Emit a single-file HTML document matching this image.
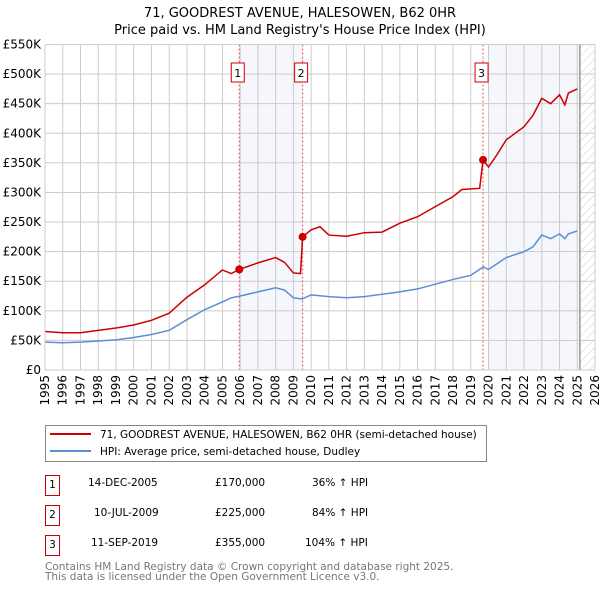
<!DOCTYPE html>
<html><head><meta charset="utf-8"><style>
body{margin:0;background:#fff;width:600px;height:590px;overflow:hidden;font-family:"DejaVu Sans","Liberation Sans",sans-serif}
text{font-family:"DejaVu Sans","Liberation Sans",sans-serif}
</style></head><body>
<svg id="chart" width="600" height="590" xmlns="http://www.w3.org/2000/svg">
<defs><pattern id="hatch" width="6" height="6" patternUnits="userSpaceOnUse" patternTransform="rotate(45)"><line x1="0" y1="0" x2="0" y2="6" stroke="#ccc" stroke-width="1"/></pattern></defs>
<text x="300" y="17" text-anchor="middle" font-size="13">71, GOODREST AVENUE, HALESOWEN, B62 0HR</text>
<text x="300" y="34" text-anchor="middle" font-size="13">Price paid vs. HM Land Registry's House Price Index (HPI)</text>
<g id="plot"></g>
<g>
<rect x="45.5" y="425.5" width="441" height="36" fill="#fff" stroke="#888"/>
<line x1="50" y1="434" x2="91" y2="434" stroke="#cc0000" stroke-width="2"/>
<text x="100" y="438" font-size="10.5">71, GOODREST AVENUE, HALESOWEN, B62 0HR (semi-detached house)</text>
<line x1="50" y1="451" x2="91" y2="451" stroke="#5b8fd4" stroke-width="2"/>
<text x="100" y="455" font-size="10.5">HPI: Average price, semi-detached house, Dudley</text>
</g>
<g font-size="10.5">
<rect x="45.5" y="475.5" width="14" height="20" fill="none" stroke="#cc0000"/><text x="52.5" y="488" text-anchor="middle">1</text>
<text x="88" y="486">14-DEC-2005</text><text x="215" y="486">£170,000</text><text x="312" y="486">36% ↑ HPI</text>
<rect x="45.5" y="505.5" width="14" height="20" fill="none" stroke="#cc0000"/><text x="52.5" y="518" text-anchor="middle">2</text>
<text x="94" y="516">10-JUL-2009</text><text x="215" y="516">£225,000</text><text x="312" y="516">84% ↑ HPI</text>
<rect x="45.5" y="535.5" width="14" height="20" fill="none" stroke="#cc0000"/><text x="52.5" y="548" text-anchor="middle">3</text>
<text x="91" y="546">11-SEP-2019</text><text x="215" y="546">£355,000</text><text x="305" y="546">104% ↑ HPI</text>
</g>
<text x="45" y="570" font-size="10.5" fill="#777">Contains HM Land Registry data © Crown copyright and database right 2025.</text>
<text x="45" y="580" font-size="10.5" fill="#777">This data is licensed under the Open Government Licence v3.0.</text>
</svg>
<script>
const redYears=[1995,1996,1997,1998,1999,2000,2001,2002,2003,2004,2005,2005.5,2005.95,2007,2008,2008.5,2009,2009.4,2009.52,2010,2010.5,2011,2012,2013,2014,2015,2016,2017,2018,2018.5,2019.5,2019.69,2020,2020.5,2021,2022,2022.5,2023,2023.5,2024,2024.3,2024.5,2025];
const redValues=[65,63,63,67,71,76,84,96,123,144,169,163,170,181,190,182,164,163,225,237,242,228,226,232,233,248,259,276,293,305,307,355,343,365,389,411,430,459,450,465,448,468,475];
const hpiYears=[1995,1996,1997,1998,1999,2000,2001,2002,2003,2004,2005,2005.5,2006,2007,2008,2008.5,2009,2009.5,2010,2011,2012,2013,2014,2015,2016,2017,2018,2019,2019.7,2020,2020.5,2021,2022,2022.5,2023,2023.5,2024,2024.3,2024.5,2025];
const hpiValues=[47,46,47,49,51,55,60,67,85,102,115,122,125,132,139,135,122,120,127,124,122,124,128,132,137,145,153,160,174,170,180,190,200,208,228,222,230,222,230,235];
const saleYears=[2005.95,2009.52,2019.69];
const saleValues=[170,225,355];
const yTicks=[0,50,100,150,200,250,300,350,400,450,500,550];
const xTicks=[1995,1996,1997,1998,1999,2000,2001,2002,2003,2004,2005,2006,2007,2008,2009,2010,2011,2012,2013,2014,2015,2016,2017,2018,2019,2020,2021,2022,2023,2024,2025,2026];
const L=45,R=595,T=44.5,B=370;
const X=y=>L+(y-1995)*(R-L)/31;
const Y=v=>B-v*(B-T)/550;
const NS="http://www.w3.org/2000/svg";
const g=document.getElementById('plot');
function mk(t,a){const e=document.createElementNS(NS,t);for(const k in a)e.setAttribute(k,a[k]);g.appendChild(e);return e;}
let e;
e=mk('rect',{x:X(2005.95),y:T,width:X(2009.52)-X(2005.95),height:B-T,fill:'#eef2fc',opacity:0.6});


e=mk('rect',{x:X(2020),y:T,width:X(2025.15)-X(2020),height:B-T,fill:'#eef2fc',opacity:0.6});


e=mk('rect',{x:X(2025.15),y:T,width:R-X(2025.15),height:B-T,fill:'url(#hatch)'});


yTicks.forEach(v=>{
 e=mk('line',{x1:L,x2:R,y1:Y(v),y2:Y(v),stroke:'#ccc'});
 
 
 e=mk('text',{x:L-4,y:Y(v)+4,'text-anchor':'end','font-size':'12'});e.textContent=v===0?'£0':'£'+v+'K';
 
 
});
xTicks.forEach(t=>{
 e=mk('line',{x1:X(t),x2:X(t),y1:T,y2:B,stroke:'#ccc'});
 
 
 e=mk('text',{x:0,y:0,'font-size':'12','text-anchor':'end',transform:`translate(${X(t)+4},${B+5}) rotate(-90)`});e.textContent=t;
 
 
});
e=mk('line',{x1:X(2025.15),x2:X(2025.15),y1:T,y2:B,stroke:'#999','stroke-width':1.5});


saleYears.forEach((s,i)=>{
 e=mk('line',{x1:X(s),x2:X(s),y1:T,y2:B,stroke:'#ee5555','stroke-dasharray':'2,2'});
 
 
 e=mk('rect',{x:X(s)-8,y:63,width:13,height:19,fill:'#fff',stroke:'#cc0000'});
 
 
 e=mk('text',{x:X(s)-1.5,y:77,'text-anchor':'middle','font-size':'11'});e.textContent=i+1;
 
 
});
e=mk('polyline',{points:hpiYears.map((y,i)=>X(y)+','+Y(hpiValues[i])).join(' '),fill:'none',stroke:'#5b8fd4','stroke-width':1.5});


e=mk('polyline',{points:redYears.map((y,i)=>X(y)+','+Y(redValues[i])).join(' '),fill:'none',stroke:'#cc0000','stroke-width':1.5});


saleYears.forEach((s,i)=>{
 e=mk('circle',{cx:X(s),cy:Y(saleValues[i]),r:4,fill:'#cc0000'});
 
 
});
e=mk('rect',{x:L,y:T,width:R-L,height:B-T,fill:'none',stroke:'#ccc'});


</script>
</body></html>
